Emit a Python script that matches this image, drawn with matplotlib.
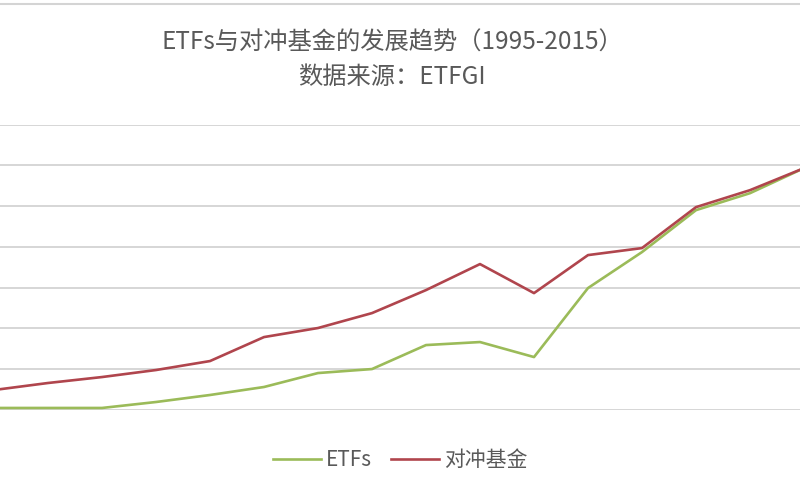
import matplotlib
matplotlib.use('Agg')
import matplotlib.pyplot as plt
from matplotlib.lines import Line2D

plt.rcParams['font.family'] = ['Noto Sans CJK SC', 'DejaVu Sans']

# years shown in the cropped chart, assets in USD billions
years = list(range(2000, 2016))
etfs = [25, 25, 25, 98, 184, 282, 453, 502, 796, 833, 649, 1495, 1936, 2450, 2658, 2965]
hedgeFunds = [245, 331, 404, 490, 600, 894, 1005, 1188, 1470, 1789, 1433, 1899, 1985, 2487, 2695, 2965]

seriesNames = ['ETFs', '对冲基金']
seriesColors = ['#9BBB59', '#B0454D']
titleLines = ['ETFs与对冲基金的发展趋势（1995-2015）', '数据来源：ETFGI']


def drawChart():
    fig = plt.figure(figsize=(8, 5), dpi=100)
    ax = fig.add_axes([0, 0.18, 1, 0.571])

    x = list(range(len(years)))
    ax.plot(x, etfs, color=seriesColors[0], lw=1.9, label=seriesNames[0], zorder=3)
    ax.plot(x, hedgeFunds, color=seriesColors[1], lw=1.9, label=seriesNames[1], zorder=3)

    ax.set_ylim(0, 3500)
    ax.set_yticks(range(0, 3501, 500))
    ax.set_xlim(6 / 54, len(years) - 1 - 4 / 54)
    ax.grid(axis='y', color='#D6D6D6', lw=1.4)
    ax.set_axisbelow(True)
    ax.tick_params(left=False, bottom=False, labelleft=False, labelbottom=False)
    for s in ax.spines.values():
        s.set_visible(False)

    fig.text(0.49, 0.914, titleLines[0], ha='center', va='center', fontsize=17.5,
             color='#595959', fontweight='light')
    fig.text(0.49, 0.845, titleLines[1], ha='center', va='center', fontsize=17.5,
             color='#595959', fontweight='light')

    ax.legend(loc='center', bbox_to_anchor=(0.5, -0.175), ncol=2, frameon=False,
              fontsize=15, handlelength=2.3, handletextpad=0.25, columnspacing=0.9,
              labelcolor='#595959')

    fig.add_artist(Line2D([0, 1], [0.993, 0.993], transform=fig.transFigure,
                          color='#D4D4D4', lw=1.5))

    fig.savefig('out.png', dpi=100)


if __name__ == "__main__":
    drawChart()
